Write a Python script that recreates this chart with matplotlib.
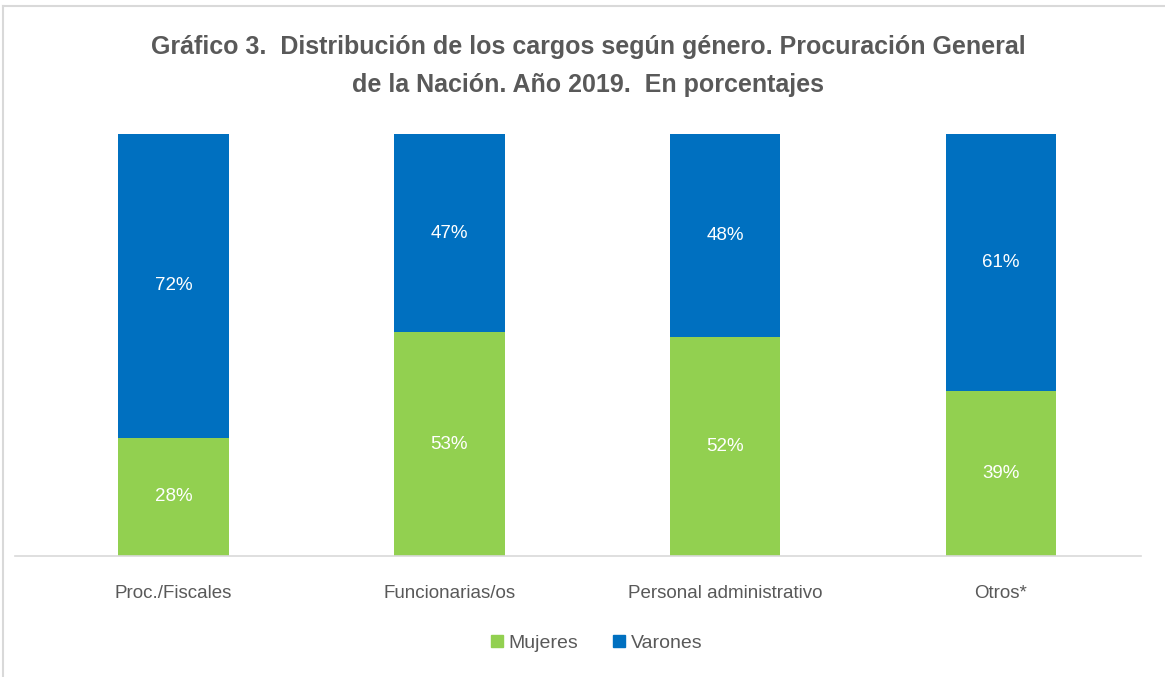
import numpy as np
import matplotlib.pyplot as plt
from matplotlib.lines import Line2D

# data
categories = ["Proc./Fiscales", "Funcionarias/os", "Personal administrativo", "Otros*"]
mujeres = [28, 53, 52, 39]
varones = [72, 47, 48, 61]
series_names = ["Mujeres", "Varones"]

GREEN = "#92D050"
BLUE = "#0070C0"
GRAY_TEXT = "#595959"
GRAY_LINE = "#D9D9D9"

plt.rcParams['font.family'] = ['Liberation Sans', 'DejaVu Sans']

W, H = 1165, 677
fig = plt.figure(figsize=(W / 100, H / 100), dpi=100)
fig.patch.set_facecolor("white")

# axes placed in pixel terms of the reference
ax = fig.add_axes([15 / W, (H - 556) / H, (1141 - 15) / W, (556 - 134) / H])

x = np.arange(len(categories))
bw = 0.40
b1 = ax.bar(x, mujeres, width=bw, color=GREEN, label=series_names[0])
b2 = ax.bar(x, varones, width=bw, bottom=mujeres, color=BLUE, label=series_names[1])

for bars, vals, base in [(b1, mujeres, [0] * len(mujeres)), (b2, varones, mujeres)]:
    for rect, v, b in zip(bars, vals, base):
        ax.text(rect.get_x() + rect.get_width() / 2, b + v / 2, f"{v}%",
                ha="center", va="center", color="white", fontsize=13.5)

ax.set_xlim(-0.575, 3.508)
ax.set_ylim(0, 100)
ax.set_xticks(x)
ax.set_xticklabels(categories, fontsize=13.5, color=GRAY_TEXT)
ax.tick_params(axis="x", length=0, pad=21)
ax.set_yticks([])
for s in ["top", "right", "left"]:
    ax.spines[s].set_visible(False)
ax.spines["bottom"].set_color(GRAY_LINE)
ax.spines["bottom"].set_linewidth(1.2)

fig.text(588 / W, 1 - 47 / H, "Gráfico 3.  Distribución de los cargos según género. Procuración General",
         ha="center", va="center", fontsize=18, fontweight="bold", color=GRAY_TEXT)
fig.text(588 / W, 1 - 85 / H, "de la Nación. Año 2019.  En porcentajes",
         ha="center", va="center", fontsize=18, fontweight="bold", color=GRAY_TEXT)

handles = [Line2D([], [], marker="s", linestyle="none", markersize=8, color=GREEN),
           Line2D([], [], marker="s", linestyle="none", markersize=8, color=BLUE)]
fig.legend(handles, series_names, loc="center", bbox_to_anchor=(595 / W, 1 - 643 / H),
           ncol=2, frameon=False, fontsize=14, labelcolor=GRAY_TEXT,
           handletextpad=0.1, columnspacing=1.6, handlelength=1.0)

# thin outer frame (top and left edges visible in the reference)
fig.add_artist(Line2D([3 / W, 1], [1 - 6 / H, 1 - 6 / H], transform=fig.transFigure,
                      color=GRAY_LINE, linewidth=1.5))
fig.add_artist(Line2D([3 / W, 3 / W], [0, 1 - 6 / H], transform=fig.transFigure,
                      color=GRAY_LINE, linewidth=1.5))

fig.savefig("out.png", dpi=100)
